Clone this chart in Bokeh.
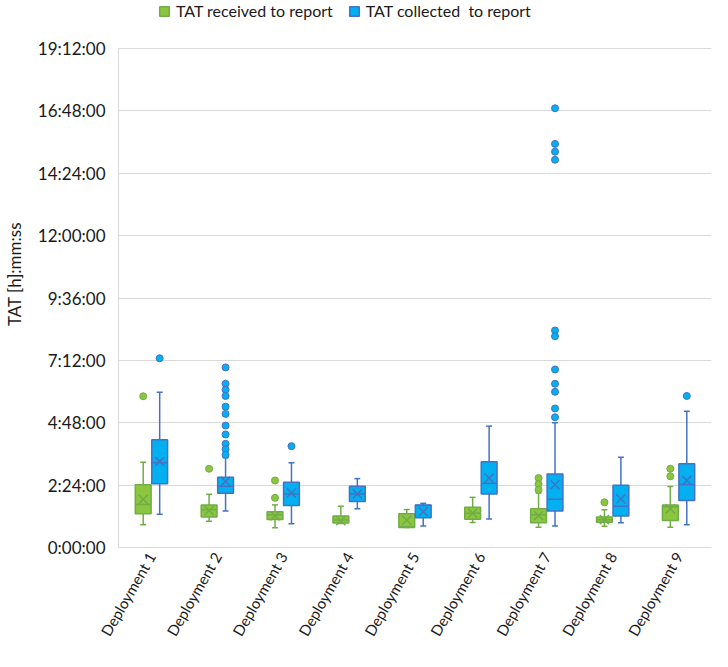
import math
from bokeh.plotting import figure
from bokeh.models import (ColumnDataSource, FactorRange, FixedTicker, Legend,
                          LegendItem, Range1d)
from bokeh.transform import dodge
from bokeh.embed import file_html
from bokeh.resources import INLINE

# ---------------- data (hours) ----------------
categories = ["Deployment 1", "Deployment 2", "Deployment 3", "Deployment 4",
              "Deployment 5", "Deployment 6", "Deployment 7", "Deployment 8",
              "Deployment 9"]
series_names = ["TAT received to report", "TAT collected  to report"]

recv_low = [0.88, 1.01, 0.76, 0.92, 0.77, 0.96, 0.78, 0.82, 0.78]
recv_q1 = [1.30, 1.17, 1.08, 0.94, 0.77, 1.09, 0.95, 0.97, 1.04]
recv_median = [1.65, 1.45, 1.26, 1.06, 0.80, 1.32, 1.26, 1.07, 1.57]
recv_q3 = [2.41, 1.64, 1.38, 1.21, 1.30, 1.55, 1.49, 1.17, 1.64]
recv_high = [3.28, 2.05, 1.64, 1.59, 1.46, 1.93, 2.10, 1.45, 2.35]
recv_mean = [1.85, 1.42, 1.22, 1.03, 1.05, 1.32, 1.23, 1.07, 1.49]
recv_outliers = [[5.82], [3.03], [2.58, 1.91], [], [], [],
                 [2.67, 2.44, 2.22], [1.74], [3.03, 2.74]]

coll_low = [1.28, 1.40, 0.91, 1.49, 0.83, 1.10, 0.83, 0.95, 0.88]
coll_q1 = [2.45, 2.09, 1.62, 1.77, 1.14, 2.06, 1.40, 1.21, 1.81]
coll_median = [3.26, 2.36, 2.06, 2.06, 1.62, 2.47, 1.86, 1.59, 2.42]
coll_q3 = [4.15, 2.70, 2.51, 2.36, 1.64, 3.30, 2.83, 2.40, 3.22]
coll_high = [5.97, 3.45, 3.26, 2.65, 1.70, 4.67, 4.80, 3.47, 5.24]
coll_mean = [3.31, 2.54, 2.10, 2.06, 1.38, 2.67, 2.42, 1.87, 2.58]
coll_outliers = [[7.28],
                 [6.93, 6.30, 6.07, 5.83, 5.42, 5.14, 4.69, 4.35, 3.99, 3.78, 3.57],
                 [3.90], [], [], [],
                 [16.90, 15.53, 15.23, 14.92, 8.35, 8.13, 6.85, 6.30, 5.99, 5.35, 5.01],
                 [], [5.83]]

y_ticks = [0, 2.4, 4.8, 7.2, 9.6, 12, 14.4, 16.8, 19.2]
y_tick_labels = ["0:00:00", "2:24:00", "4:48:00", "7:12:00", "9:36:00",
                 "12:00:00", "14:24:00", "16:48:00", "19:12:00"]
y_axis_max = 19.2

# ---------------- layout / styling ----------------
FONT = "Lato"
GRID = "#d9d9d9"
TEXT = "#1a1a1a"
series_style = [
    dict(fill="#8cc63f", line="#70ad47", offset=-0.125),
    dict(fill="#00b0f0", line="#4472c4", offset=0.125),
]
BOX_W = 0.24
CAP_HW = 0.045

W, H = 712, 651
BORDER_L, BORDER_R, BORDER_B = 115, 1, 104
PLOT_TOP = 48             # pixel row of the y_axis_max gridline
frame_h = H - BORDER_B    # frame spans the full height above the x axis
y_top = y_axis_max * frame_h / (frame_h - PLOT_TOP)

p = figure(width=W, height=H,
           x_range=FactorRange(*categories, range_padding=0),
           y_range=Range1d(0, y_top),
           output_backend="svg", toolbar_location=None,
           min_border_left=BORDER_L, min_border_right=BORDER_R,
           min_border_top=0, min_border_bottom=BORDER_B)
p.outline_line_color = None
p.background_fill_color = "white"
p.border_fill_color = "white"

series_data = [
    (recv_low, recv_q1, recv_median, recv_q3, recv_high, recv_mean, recv_outliers),
    (coll_low, coll_q1, coll_median, coll_q3, coll_high, coll_mean, coll_outliers),
]

legend_items = []
for name, st, data in zip(series_names, series_style, series_data):
    low, q1, med, q3, high, mean, outl = data
    src = ColumnDataSource(dict(cat=categories, low=low, q1=q1, med=med,
                                q3=q3, high=high, mean=mean))
    off = st["offset"]
    xc = dodge("cat", off, range=p.x_range)
    xl = dodge("cat", off - BOX_W / 2, range=p.x_range)
    xr = dodge("cat", off + BOX_W / 2, range=p.x_range)
    cl = dodge("cat", off - CAP_HW, range=p.x_range)
    cr = dodge("cat", off + CAP_HW, range=p.x_range)

    # whiskers
    p.segment(x0=xc, x1=xc, y0="q3", y1="high", source=src,
              line_color=st["line"], line_width=1.5)
    p.segment(x0=xc, x1=xc, y0="low", y1="q1", source=src,
              line_color=st["line"], line_width=1.5)
    p.segment(x0=cl, x1=cr, y0="high", y1="high", source=src,
              line_color=st["line"], line_width=1.5)
    p.segment(x0=cl, x1=cr, y0="low", y1="low", source=src,
              line_color=st["line"], line_width=1.5)
    # box
    box = p.vbar(x=xc, width=BOX_W, bottom="q1", top="q3", source=src,
                 fill_color=st["fill"], line_color=st["line"], line_width=1.5)
    # median
    p.segment(x0=xl, x1=xr, y0="med", y1="med", source=src,
              line_color=st["line"], line_width=1.5)
    # mean
    p.scatter(x=xc, y="mean", source=src, marker="x", size=13,
              line_color=st["line"], line_width=1.5)
    # outliers
    ocat, oval = [], []
    for c, vals in zip(categories, outl):
        for v in vals:
            ocat.append(c)
            oval.append(v)
    osrc = ColumnDataSource(dict(cat=ocat, v=oval))
    p.scatter(x=xc, y="v", source=osrc, marker="circle", size=7,
              fill_color=st["fill"], line_color=st["line"], line_width=1)
    legend_items.append(LegendItem(label=name, renderers=[box]))

# axes
p.xgrid.grid_line_color = None
p.ygrid.grid_line_color = GRID
p.ygrid.grid_line_width = 1

p.yaxis.ticker = FixedTicker(ticks=y_ticks)
p.yaxis.bounds = (0, y_axis_max)
p.yaxis.major_label_overrides = dict(zip(y_ticks, y_tick_labels))
p.yaxis.axis_label = "TAT [h]:mm:ss"
p.yaxis.axis_label_text_font = FONT
p.yaxis.axis_label_text_font_style = "normal"
p.yaxis.axis_label_text_font_size = "17px"
p.yaxis.axis_label_text_color = TEXT
p.yaxis.axis_label_standoff = 10
p.yaxis.major_label_standoff = 13

for ax in (p.xaxis[0], p.yaxis[0]):
    ax.axis_line_color = GRID
    ax.major_tick_line_color = None
    ax.minor_tick_line_color = None
    ax.major_tick_out = 0
    ax.major_label_text_font = FONT
    ax.major_label_text_font_size = "17px"
    ax.major_label_text_color = TEXT

p.xaxis.major_label_orientation = math.radians(60)
p.xaxis.major_label_text_font_size = "15px"
p.xaxis.major_label_standoff = 6

legend = Legend(items=legend_items, location=(40, frame_h - 20),
                orientation="horizontal",
                padding=0, margin=0, spacing=15, label_standoff=6,
                glyph_width=12, glyph_height=12, border_line_color=None,
                background_fill_alpha=0, label_text_font=FONT,
                label_text_font_size="16px", label_text_color=TEXT)
p.add_layout(legend)

open("out.html", "w").write(file_html(p, INLINE))
